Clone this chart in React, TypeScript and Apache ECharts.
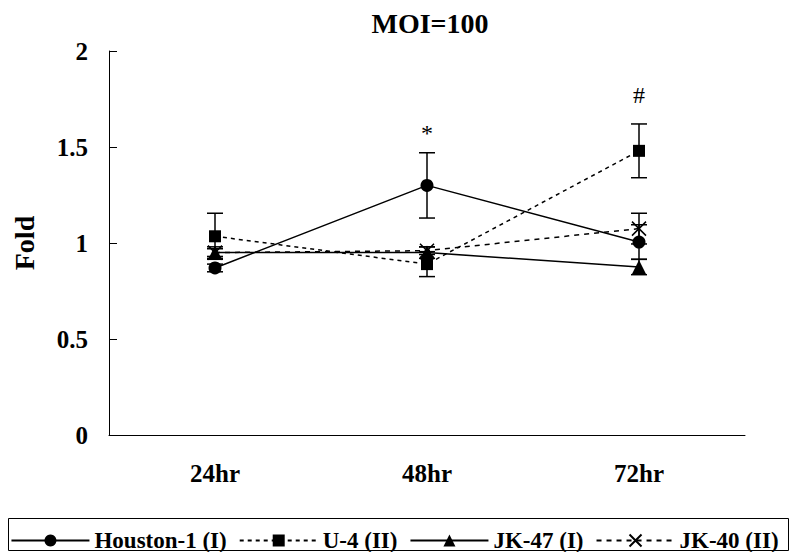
import React, { useEffect, useRef } from "react";
import * as echarts from "echarts";

const categories = ["24hr", "48hr", "72hr"];
const houston = [0.87, 1.3, 1.005];
const houstonErr = [0.02, 0.17, 0.09];
const u4 = [1.035, 0.89, 1.48];
const u4Err = [0.12, 0.065, 0.14];
const jk47 = [0.95, 0.95, 0.875];
const jk47Err = [0.03, 0.03, 0.04];
const jk40 = [0.95, 0.96, 1.075];
const jk40Err = [0.02, 0.02, 0.08];
const yTicks = [0, 0.5, 1, 1.5, 2];

const FONT = "'Liberation Serif', 'Times New Roman', serif";

function errData(vals: number[], errs: number[]) {
  return vals.map((v, i) => [i, v - errs[i], v + errs[i]]);
}

const errorRender = (params: any, api: any) => {
  const x = api.value(0);
  const lo = api.value(1);
  const hi = api.value(2);
  const p1 = api.coord([x, hi]);
  const p2 = api.coord([x, lo]);
  const hw = 8;
  const style = { stroke: "#000", lineWidth: 1.5 };
  return {
    type: "group",
    children: [
      { type: "line", shape: { x1: p1[0], y1: p1[1], x2: p2[0], y2: p2[1] }, style },
      { type: "line", shape: { x1: p1[0] - hw, y1: p1[1], x2: p1[0] + hw, y2: p1[1] }, style },
      { type: "line", shape: { x1: p2[0] - hw, y1: p2[1], x2: p2[0] + hw, y2: p2[1] }, style },
    ],
  };
};

export default function App() {
  const ref = useRef<HTMLDivElement>(null);
  useEffect(() => {
    if (!ref.current) return;
    const chart = echarts.init(ref.current, undefined, { renderer: "svg" });
    const errSeries = (vals: number[], errs: number[]) => ({
      type: "custom",
      renderItem: errorRender,
      data: errData(vals, errs),
      encode: { x: 0, y: [1, 2] },
      z: 1,
      silent: true,
    });
    const labelFont = { fontFamily: FONT, fontSize: 24, color: "#000", fontWeight: "normal" as const };
    chart.setOption({
      animation: false,
      backgroundColor: "#fff",
      title: {
        text: "MOI=100",
        left: 425,
        top: 4,
        textAlign: "center",
        textStyle: { fontFamily: FONT, fontSize: 28, fontWeight: "bold", color: "#000" },
      },
      grid: { left: 109, right: 44, top: 51, bottom: 117, containLabel: false },
      xAxis: {
        type: "category",
        data: categories,
        boundaryGap: true,
        axisLine: { lineStyle: { color: "#000", width: 1 } },
        axisTick: { inside: true, length: 8, lineStyle: { color: "#000" } },
        axisLabel: { fontFamily: FONT, fontSize: 25, fontWeight: "bold", color: "#000", margin: 26 },
        splitLine: { show: false },
      },
      yAxis: {
        type: "value",
        min: yTicks[0],
        max: yTicks[yTicks.length - 1],
        interval: 0.5,
        name: "Fold",
        nameLocation: "middle",
        nameGap: 71,
        nameRotate: 90,
        nameTextStyle: { fontFamily: FONT, fontSize: 28, fontWeight: "bold", color: "#000" },
        axisLine: { show: true, lineStyle: { color: "#000", width: 1 } },
        axisTick: { show: true, inside: true, length: 8, lineStyle: { color: "#000" } },
        axisLabel: { fontFamily: FONT, fontSize: 25, fontWeight: "bold", color: "#000", margin: 21 },
        splitLine: { show: false },
      },
      legend: {
        data: ["Houston-1 (I)", "U-4 (II)", "JK-47 (I)", "JK-40 (II)"],
        left: "center",
        top: 524,
        itemWidth: 78,
        itemHeight: 15,
        itemGap: 12,
        textStyle: { fontFamily: FONT, fontSize: 23, fontWeight: "bold", color: "#000" },
      },
      graphic: [
        {
          type: "rect",
          shape: { x: 8.5, y: 518.5, width: 780, height: 32 },
          style: { fill: "none", stroke: "#000", lineWidth: 1 },
          silent: true,
        },
      ],
      series: [
        errSeries(houston, houstonErr),
        errSeries(u4, u4Err),
        errSeries(jk47, jk47Err),
        errSeries(jk40, jk40Err),
        {
          name: "Houston-1 (I)",
          type: "line",
          data: houston.map((v, i) =>
            i === 1
              ? { value: v, label: { show: true, formatter: "*", position: "top", distance: 34, ...labelFont } }
              : v
          ),
          symbol: "circle",
          symbolSize: 13,
          lineStyle: { color: "#000", width: 1.5, type: "solid" },
          itemStyle: { color: "#000" },
          z: 3,
        },
        {
          name: "U-4 (II)",
          type: "line",
          data: u4.map((v, i) =>
            i === 2
              ? { value: v, label: { show: true, formatter: "#", position: "top", distance: 38, ...labelFont } }
              : v
          ),
          symbol: "rect",
          symbolSize: 12,
          lineStyle: { color: "#000", width: 1.5, type: [4, 4] },
          itemStyle: { color: "#000" },
          z: 3,
        },
        {
          name: "JK-47 (I)",
          type: "line",
          data: jk47,
          symbol: "triangle",
          symbolSize: 14,
          lineStyle: { color: "#000", width: 1.5, type: "solid" },
          itemStyle: { color: "#000" },
          z: 3,
        },
        {
          name: "JK-40 (II)",
          type: "line",
          data: jk40,
          symbol: "path://M0,0L10,10M10,0L0,10",
          symbolSize: 14,
          lineStyle: { color: "#000", width: 1.5, type: [5, 5] },
          itemStyle: { color: "none", borderColor: "#000", borderWidth: 1.5 },
          z: 3,
        },
      ],
    });
    return () => chart.dispose();
  }, []);
  return (
    <div
      ref={ref}
      style={{ position: "fixed", left: 0, top: 0, width: 789, height: 552, background: "#fff" }}
    />
  );
}
